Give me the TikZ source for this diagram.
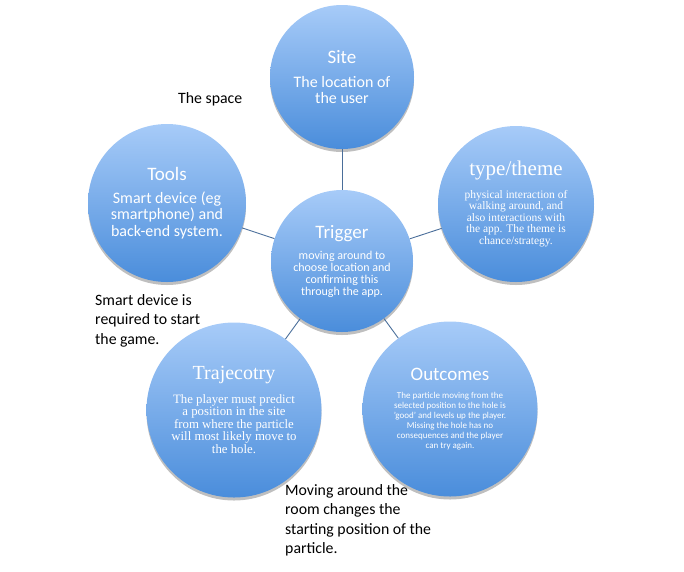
\documentclass[tikz,border=0pt]{standalone}
\usepackage{fontspec}
\setmainfont{Carlito}
\newfontfamily\serifcam{Liberation Serif}
\usepackage{tikz}
\usetikzlibrary{shadows}
\definecolor{bubbletop}{HTML}{A7CBF8}
\definecolor{bubblebottom}{HTML}{4A8DDB}
\definecolor{spokeline}{HTML}{4A6E9A}

\begin{document}
\begin{tikzpicture}[
  x=1pt,y=-1pt,
  bubble/.style={circle,inner sep=0pt,align=center,text=white,top color=bubbletop,bottom color=bubblebottom,
    drop shadow={shadow xshift=0pt,shadow yshift=-3pt,opacity=0.25,fill=black}},
  spoke/.style={spokeline,line width=0.9pt},
  note/.style={anchor=north west,align=left,inner sep=0pt,text=black,font=\fontsize{15.8}{19.5}\selectfont}
]
\useasboundingbox (0,0) rectangle (684,571);
\node[bubble,minimum size=144pt,font=\fontsize{16}{15.5}\selectfont] (site) at (342,77)
  {{\fontsize{19}{20}\selectfont Site}\\[9pt]The location of\\the user};
\node[bubble,minimum size=158pt,font=\fontsize{16}{16.5}\selectfont] (tools) at (167,203)
  {{\fontsize{19}{20}\selectfont Tools}\\[6pt]Smart device (eg\\smartphone) and\\back-end system.};
\node[bubble,minimum size=156pt,font=\serifcam\fontsize{11.5}{11.5}\selectfont] (theme) at (516,204)
  {{\fontsize{21}{20}\selectfont type/theme}\\[9pt]physical interaction of\\walking around, and\\also interactions with\\the app. The theme is\\chance/strategy.};
\node[bubble,minimum size=142pt,font=\fontsize{12}{12}\selectfont] (trig) at (342,261)
  {{\fontsize{19}{20}\selectfont Trigger}\\[9pt]moving around to\\choose location and\\confirming this\\through the app.};
\node[bubble,minimum size=175pt,font=\serifcam\fontsize{12.8}{12.5}\selectfont] (traj) at (234,410)
  {{\fontsize{20}{21}\selectfont Trajecotry}\\[9pt]The player must predict\\a position in the site\\from where the particle\\will most likely move to\\the hole.};
\node[bubble,minimum size=175pt,font=\fontsize{9}{10}\selectfont] (outc) at (450,409)
  {{\fontsize{19}{20}\selectfont Outcomes}\\[8pt]The particle moving from the\\selected position to the hole is\\'good' and levels up the player.\\Missing the hole has no\\consequences and the player\\can try again.};
\draw[spoke] (trig) -- (site);
\draw[spoke] (trig) -- (tools);
\draw[spoke] (trig) -- (theme);
\draw[spoke] (trig) -- (traj);
\draw[spoke] (trig) -- (outc);
\node[note] (space) at (178,92) {The space};
\node[note] (smartnote) at (95,294) {Smart device is\\required to start\\the game.};
\node[note] (movenote) at (285,484) {Moving around the\\room changes the\\starting position of the\\particle.};
\end{tikzpicture}
\end{document}
